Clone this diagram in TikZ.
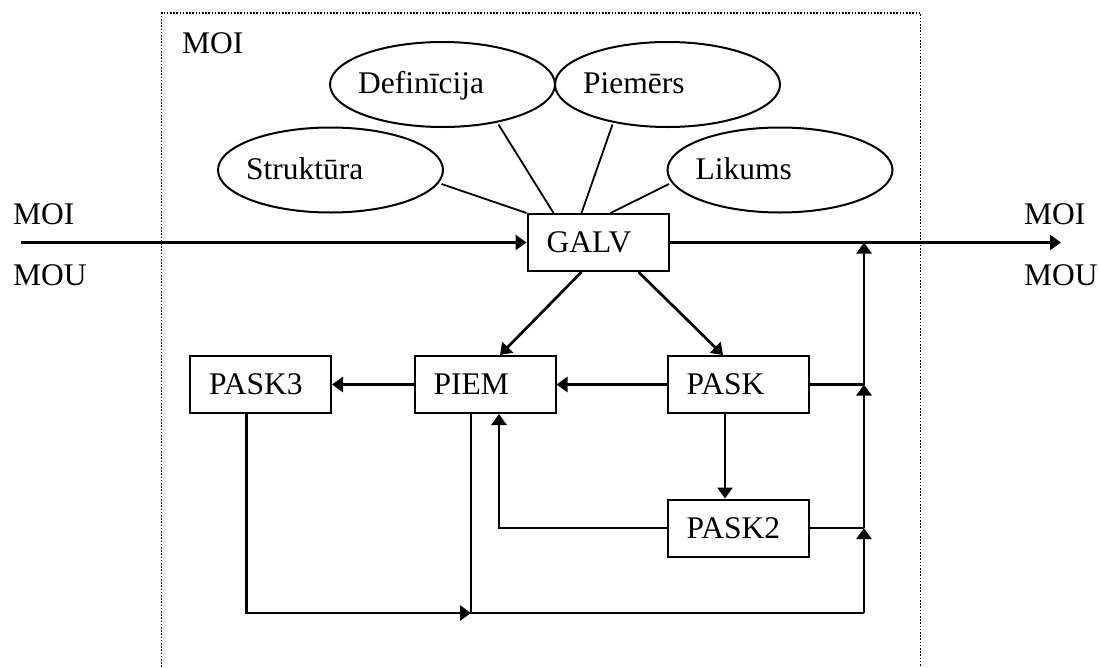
\documentclass[tikz,border=0pt]{standalone}
\usepackage{fontspec}
\setmainfont{Liberation Serif}
\usetikzlibrary{arrows.meta,calc,shapes.geometric}
\begin{document}
\begin{tikzpicture}[x=1pt,y=-1pt,
  font=\fontsize{31.5}{38}\selectfont,
  box/.style={draw, line width=2pt, minimum width=141pt, minimum height=57pt, inner sep=0pt},
  oval/.style={draw, ellipse, line width=2pt, minimum width=225pt, minimum height=85pt, inner sep=0pt},
  lbl/.style={anchor=base west, inner sep=0pt},
  conn/.style={line width=2.7pt, -{Triangle[length=11pt,width=15pt]}},
  plain/.style={line width=2.7pt},
  spoke/.style={line width=1.8pt},
  frame/.style={line width=1.6pt, dash pattern=on 1.6pt off 1.6pt}]
\useasboundingbox (0,0) rectangle (1099,667);

% dotted frame
\draw[frame] (161.5,667) -- (161.5,13) -- (920.5,13) -- (920.5,667);
\node[lbl] (moitop) at (182,53) {MOI};

% ellipses
\node[oval] (str) at (330.5,170) {};
\node[oval] (def) at (442.5,84.5) {};
\node[oval] (pie) at (667.5,84.5) {};
\node[oval] (lik) at (780,170) {};
\node[lbl] (tstr) at ($(str.west)+(29,9)$) {Struktūra};
\node[lbl] (tdef) at ($(def.west)+(29,9)$) {Definīcija};
\node[lbl] (tpie) at ($(pie.west)+(29,9)$) {Piemērs};
\node[lbl] (tlik) at ($(lik.west)+(29,9)$) {Likums};

% boxes
\node[box] (galv) at (598,242.5) {};
\node[box] (pask3) at (260.5,384.5) {};
\node[box] (piem) at (485,384.5) {};
\node[box] (pask) at (738,384.5) {};
\node[box] (pask2) at (738,528) {};
\node[lbl] (tgalv) at ($(galv.west)+(20,10)$) {GALV};
\node[lbl] (tpask3) at ($(pask3.west)+(20,10)$) {PASK3};
\node[lbl] (tpiem) at ($(piem.west)+(20,10)$) {PIEM};
\node[lbl] (tpask) at ($(pask.west)+(20,10)$) {PASK};
\node[lbl] (tpask2) at ($(pask2.west)+(20,10)$) {PASK2};

% side labels
\node[lbl] (moil) at (13,224) {MOI};
\node[lbl] (moul) at (13,285) {MOU};
\node[lbl] (moir) at (1024,224) {MOI};
\node[lbl] (mour) at (1024,285) {MOU};

% spokes
\draw[spoke] ($(str.center)+(111,14)$) -- (galv.north west);
\draw[spoke] ($(def.center)+(56,40)$) -- ($(galv.north west)+(27,0)$);
\draw[spoke] ($(pie.center)+(-55,40)$) -- ($(galv.north west)+(55,0)$);
\draw[spoke] ($(lik.center)+(-111,14)$) -- ($(galv.north west)+(84,0)$);

% coordinates
\coordinate (inL) at (21,242.5);
\coordinate (outR) at (1061,242.5);
\coordinate (busTop) at (864,242.5);
\coordinate (busPask) at (864,384.5);
\coordinate (busPask2) at (864,528);
\coordinate (busBot) at (864,613);
\coordinate (botMid) at ($(piem.south)+(-14,0)$);

% connectors
\draw[conn] (inL) -- (galv.west);
\draw[conn] (galv.east) -- (outR);
\draw[conn] ($(galv.south west)+(55,0)$) -- ($(piem.north)+(15,0)$);
\draw[conn] ($(galv.south west)+(112,0)$) -- ($(pask.north)+(-15,0)$);
\draw[conn] (piem.west) -- (pask3.east);
\draw[conn] (pask.west) -- (piem.east);
\draw[conn] ($(pask.south)+(-13,0)$) -- ($(pask2.north)+(-13,0)$);
\draw[conn] (pask2.west) -| ($(piem.south)+(14,0)$);
\draw[conn] ($(pask3.south)+(-14,0)$) |- (botMid |- busBot);
\draw[plain] (botMid) |- (busBot);
\draw[conn] (busBot) -- (busPask2);
\draw[plain] (pask2.east) -- (busPask2);
\draw[conn] (busPask2) -- (busPask);
\draw[plain] (pask.east) -- (busPask);
\draw[conn] (busPask) -- (busTop);
\end{tikzpicture}
\end{document}
